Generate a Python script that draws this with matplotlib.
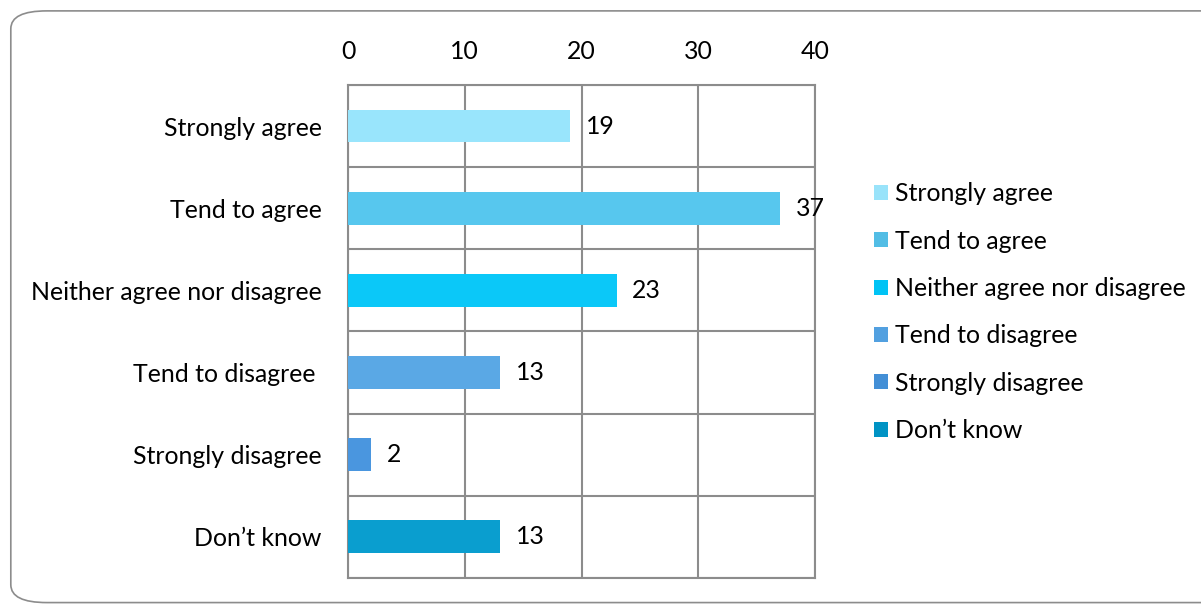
import numpy as np
import matplotlib.pyplot as plt
from matplotlib.patches import FancyBboxPatch, Patch

# survey answers, top to bottom
categories = ['Strongly agree', 'Tend to agree', 'Neither agree nor disagree',
              'Tend to disagree ', 'Strongly disagree', 'Don\u2019t know']
legend_names = ['Strongly agree', 'Tend to agree', 'Neither agree nor disagree',
                'Tend to disagree', 'Strongly disagree', 'Don\u2019t know']
values = [19, 37, 23, 13, 2, 13]
colors = ['#99E5FC', '#57C7EE', '#0BC8F8', '#5AA8E5', '#4A96DF', '#0A9ECF']
legend_colors = ['#99E3FA', '#52BDE5', '#00C3F5', '#52A0E0', '#438FD6', '#0093C4']

plt.rcParams['font.family'] = ['Lato', 'DejaVu Sans']
GRID = '#8C8C8C'
FS = 17.9

fig = plt.figure(figsize=(12.01, 6.05), dpi=100)
# rounded outer frame
frame = FancyBboxPatch((0.009, 0.004), 1.05, 0.978, boxstyle='round,pad=0,rounding_size=0.03',
                       transform=fig.transFigure, facecolor='none', edgecolor='#8C8C8C',
                       linewidth=1.2, mutation_aspect=605/1201 * 1.95, zorder=-1)
fig.patches.append(frame)

ax = fig.add_axes([0.2898, 0.0446, 0.3888, 0.815])
y = np.arange(len(categories))
ax.barh(y, values, height=0.4, color=colors, zorder=3)
for yi, v in zip(y, values):
    ax.text(v + 1.35, yi, str(v), va='center', ha='left', fontsize=FS, color='black')

ax.set_xlim(0, 40)
ax.set_ylim(len(categories) - 0.5, -0.5)
ax.set_xticks([0, 10, 20, 30, 40])
ax.xaxis.tick_top()
ax.set_yticks(y)
ax.set_yticklabels(categories)
ax.set_yticks(np.arange(len(categories) + 1) - 0.5, minor=True)
ax.tick_params(axis='both', which='both', length=0, labelsize=FS, colors='black')
ax.tick_params(axis='y', pad=19)
ax.tick_params(axis='x', pad=16)
ax.grid(axis='x', which='major', color=GRID, linewidth=1.5, zorder=0)
ax.grid(axis='y', which='minor', color=GRID, linewidth=1.5, zorder=0)
for s in ax.spines.values():
    s.set_color(GRID)
    s.set_linewidth(1.5)

handles = [Patch(facecolor=c, edgecolor='none') for c in legend_colors]
fig.legend(handles, legend_names, loc='center left', bbox_to_anchor=(0.728, 0.484),
           frameon=False, fontsize=FS, handlelength=0.55, handleheight=0.55,
           handletextpad=0.3, labelspacing=0.98, borderaxespad=0, borderpad=0)

fig.savefig('out.png', dpi=100)
